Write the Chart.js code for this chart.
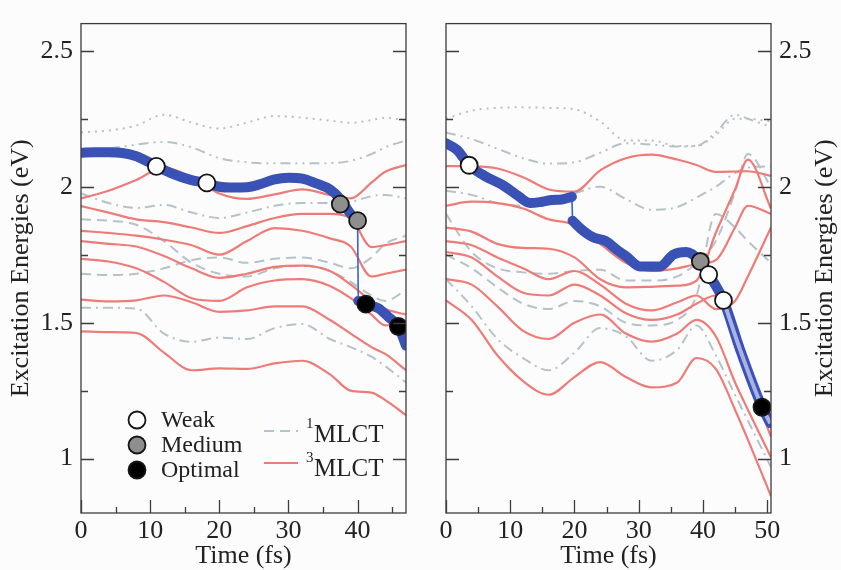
<!DOCTYPE html>
<html>
<head>
<meta charset="utf-8">
<script src="https://cdn.jsdelivr.net/npm/chart.js@4.4.1/dist/chart.umd.min.js"></script>
<style>
  html, body { margin: 0; padding: 0; background: #fcfcfd; }
  #wrap { position: relative; width: 841px; height: 570px; }
  #left { position: absolute; left: 0; top: 0; }
  #right { position: absolute; left: 420px; top: 0; }
</style>
</head>
<body>
<div id="wrap">
  <canvas id="left" width="420" height="570"></canvas>
  <canvas id="right" width="421" height="570"></canvas>
</div>
<script>
// ---- data (time in fs, energy in eV) ----
const timeLeft  = [0, 4, 8, 12, 16, 20, 24, 28, 32, 36, 39, 42, 44, 47];
const timeRight = [0, 4, 8, 12, 16, 20, 24, 28, 32, 36, 39, 42, 45, 47, 50.6];

// 3MLCT (red, solid) - left panel
const redL1 = [1.957, 1.985, 2.025, 2.07, 2.035, 1.975, 1.955, 1.972, 1.99, 1.97, 1.957, 2.015, 2.055, 2.08];
const redL2 = [1.929, 1.905, 1.88, 1.87, 1.85, 1.83, 1.855, 1.885, 1.90, 1.90, 1.885, 1.778, 1.785, 1.80];
const redL3 = [1.838, 1.83, 1.82, 1.805, 1.785, 1.75, 1.80, 1.848, 1.838, 1.81, 1.78, 1.67, 1.68, 1.695];
const redL4 = [1.80, 1.79, 1.78, 1.745, 1.70, 1.665, 1.68, 1.705, 1.71, 1.69, 1.64, 1.58, 1.55, 1.53];
const redL5 = [1.735, 1.725, 1.70, 1.65, 1.59, 1.58, 1.63, 1.655, 1.66, 1.635, 1.59, 1.53, 1.49, 1.50];
const redL6 = [1.585, 1.578, 1.582, 1.60, 1.575, 1.54, 1.545, 1.56, 1.56, 1.51, 1.46, 1.41, 1.385, 1.325];
const redL7 = [1.468, 1.465, 1.462, 1.39, 1.325, 1.332, 1.33, 1.35, 1.36, 1.31, 1.25, 1.243, 1.215, 1.16];

// 1MLCT (grey, broken) - left panel
const grayL1 = [2.20, 2.207, 2.225, 2.265, 2.236, 2.214, 2.236, 2.26, 2.254, 2.243, 2.235, 2.245, 2.254, 2.243];
const grayL2 = [2.13, 2.14, 2.155, 2.165, 2.145, 2.105, 2.09, 2.086, 2.086, 2.087, 2.095, 2.12, 2.145, 2.17];
const grayL3 = [1.975, 1.94, 1.922, 1.933, 1.905, 1.885, 1.905, 1.93, 1.94, 1.94, 1.945, 1.965, 1.97, 1.957];
const grayL4 = [1.88, 1.875, 1.86, 1.80, 1.72, 1.68, 1.67, 1.70, 1.71, 1.69, 1.65, 1.60, 1.58, 1.62];
const grayL5 = [1.68, 1.675, 1.68, 1.70, 1.73, 1.74, 1.72, 1.735, 1.74, 1.72, 1.70, 1.74, 1.79, 1.82];
const grayL6 = [1.555, 1.555, 1.552, 1.46, 1.43, 1.445, 1.44, 1.48, 1.495, 1.44, 1.41, 1.375, 1.34, 1.28];

// 3MLCT - right panel
const redR1 = [2.076, 2.075, 2.067, 2.035, 1.99, 1.982, 2.06, 2.105, 2.118, 2.10, 2.08, 2.055, 2.056, 2.057, 2.04];
const redR2 = [1.93, 1.945, 1.94, 1.92, 1.88, 1.86, 1.79, 1.72, 1.69, 1.70, 1.715, 1.73, 1.85, 1.93, 1.90];
const redR3 = [1.85, 1.835, 1.79, 1.775, 1.772, 1.74, 1.66, 1.63, 1.632, 1.636, 1.655, 1.83, 1.99, 2.10, 1.92];
const redR4 = [1.80, 1.785, 1.74, 1.70, 1.66, 1.69, 1.64, 1.57, 1.545, 1.575, 1.60, 1.55, 1.58, 1.67, 1.85];
const redR5 = [1.76, 1.74, 1.67, 1.61, 1.60, 1.64, 1.60, 1.535, 1.51, 1.53, 1.57, 1.60, 1.42, 1.30, 1.08];
const redR6 = [1.66, 1.64, 1.56, 1.47, 1.44, 1.50, 1.53, 1.46, 1.43, 1.46, 1.51, 1.45, 1.28, 1.18, 1.005];
const redR7 = [1.582, 1.51, 1.38, 1.285, 1.235, 1.30, 1.355, 1.30, 1.262, 1.28, 1.37, 1.33, 1.18, 1.07, 0.862];

// 1MLCT - right panel
const grayR1 = [2.25, 2.28, 2.29, 2.292, 2.29, 2.285, 2.24, 2.17, 2.17, 2.15, 2.15, 2.19, 2.25, 2.25, 2.24];
const grayR2 = [2.20, 2.175, 2.14, 2.105, 2.085, 2.09, 2.125, 2.16, 2.155, 2.148, 2.15, 2.20, 2.265, 2.25, 2.22];
const grayR3 = [1.985, 1.97, 1.94, 1.93, 1.94, 1.975, 2.0, 1.955, 1.915, 1.925, 1.96, 2.0, 2.05, 2.07, 2.075];
const grayR4 = [1.66, 1.56, 1.44, 1.37, 1.325, 1.39, 1.48, 1.45, 1.36, 1.40, 1.49, 1.38, 1.235, 1.14, 0.968];
const grayR5 = [1.90, 1.76, 1.70, 1.685, 1.68, 1.69, 1.695, 1.655, 1.655, 1.67, 1.72, 1.80, 1.98, 2.12, 2.0];
const grayR6 = [1.75, 1.70, 1.63, 1.57, 1.55, 1.58, 1.56, 1.50, 1.49, 1.51, 1.60, 1.90, 1.85, 1.80, 1.72];

// populated state (blue), before and after the hop
const blueLeftA = [[0, 2.125], [2, 2.127], [4, 2.127], [6, 2.124], [8, 2.112], [10, 2.088], [11, 2.075], [13, 2.05],
  [16, 2.024], [18.2, 2.014], [20, 2.0], [22, 1.997], [24, 1.998], [26, 2.01], [28, 2.027], [30, 2.033], [32, 2.03],
  [34, 2.012], [36, 1.99], [37.5, 1.955], [39, 1.9], [40, 1.875]];
const blueLeftB = [[40.1, 1.58], [41.2, 1.568], [43, 1.553], [44.5, 1.52], [45.9, 1.486], [47, 1.415]];
const blueRightA = [[0, 2.16], [1.7, 2.136], [3.6, 2.079], [6, 2.04], [8.9, 2.005], [11, 1.97], [13.1, 1.94],
  [15, 1.945], [16.5, 1.951], [18, 1.953], [19.6, 1.963]];
const blueRightB = [[19.7, 1.875], [21, 1.845], [22.9, 1.814], [24.9, 1.80], [26.5, 1.77], [28.1, 1.743], [30.2, 1.707],
  [33.3, 1.707], [35.4, 1.75], [37.4, 1.76], [39.6, 1.725], [40.9, 1.678], [43.2, 1.582], [45.8, 1.40],
  [49.2, 1.19], [50.5, 1.13]];

// coupling markers: t, E, kind
const markLeftT = [10.9, 18.2, 37.5, 40.0, 41.2, 45.9];
const markLeftE = [2.075, 2.014, 1.936, 1.875, 1.568, 1.486];
const markLeftKind = ['weak', 'weak', 'medium', 'medium', 'optimal', 'optimal'];
const markRightT = [3.6, 39.6, 40.9, 43.2, 49.2];
const markRightE = [2.079, 1.725, 1.677, 1.582, 1.189];
const markRightKind = ['weak', 'medium', 'weak', 'weak', 'optimal'];

const yLabelTicks = [1, 1.5, 2, 2.5];
const yMinorTicks = [1.25, 1.75, 2.25];
const xLabelsLeft = [0, 10, 20, 30, 40];
const xMinorLeft = [5, 15, 25, 35, 45];
const xLabelsRight = [0, 10, 20, 30, 40, 50];
const xMinorRight = [5, 15, 25, 35, 45];

// ---- styling ----
const FONT = '"Liberation Serif", "Times New Roman", serif';
const FS = 26;
const INK = '#222';
const RED = '#ef7b77';
const GRAY = '#b4c2ca';
const BLUE = '#3a51b5';
const FILL = { weak: '#ffffff', medium: '#8e8e8e', optimal: '#000000' };
const DASH = { dotted: [2, 5], dashDotDot: [10, 5, 2, 5, 2, 5], dashDot: [10, 5, 2, 5], dashed: [10, 6] };

const series = (times, values) => times.map((t, i) => ({ x: t, y: values[i] }));
const pairs = list => list.map(p => ({ x: p[0], y: p[1] }));

function redLine(times, values) {
  return { data: series(times, values), borderColor: RED, borderWidth: 2.2, pointRadius: 0,
    cubicInterpolationMode: 'monotone', order: 3 };
}
function grayLine(times, values, dash) {
  return { data: series(times, values), borderColor: GRAY, borderWidth: 2, borderDash: DASH[dash],
    pointRadius: 0, cubicInterpolationMode: 'monotone', order: 4 };
}
function blueSets(partA, partB) {
  const thick = list => ({ data: pairs(list), borderColor: BLUE, borderWidth: 10, borderCapStyle: 'round',
    borderJoinStyle: 'round', pointRadius: 0, cubicInterpolationMode: 'monotone', order: 1 });
  const hop = { data: pairs([partA[partA.length - 1], partB[0]]), borderColor: '#3b63d0', borderWidth: 1.6,
    pointRadius: 0, order: 2 };
  return [thick(partA), hop, thick(partB)];
}
function markers(ts, es, kinds) {
  return { data: series(ts, es), showLine: false, pointRadius: 8.5, pointHoverRadius: 8.5,
    pointBackgroundColor: kinds.map(k => FILL[k]), pointBorderColor: '#151515', pointBorderWidth: 1.8, order: 0 };
}

function yScale(position) {
  return {
    type: 'linear', position, min: 0.8, max: 2.6,
    grid: { display: false, drawTicks: false }, border: { display: false },
    afterBuildTicks: s => { s.ticks = yLabelTicks.map(v => ({ value: v })); },
    ticks: { font: { family: FONT, size: FS }, color: INK, padding: 8, callback: v => String(v) },
    afterFit: s => { s.width = position === 'left' ? 81 : 70; },
    title: position === 'left'
      ? { display: true, text: 'Excitation Energies (eV)', font: { family: FONT, size: FS }, color: INK,
          padding: { top: 6, bottom: 0 } }
      : { display: false }
  };
}
function xScale(max, labels) {
  return {
    type: 'linear', min: 0, max,
    grid: { display: false, drawTicks: false }, border: { display: false },
    afterBuildTicks: s => { s.ticks = labels.map(v => ({ value: v })); },
    ticks: { font: { family: FONT, size: FS }, color: INK, padding: 3, maxRotation: 0, autoSkip: false },
    afterFit: s => { s.height = 57; },
    title: { display: true, text: 'Time (fs)', font: { family: FONT, size: FS }, color: INK,
      padding: { top: 0, bottom: -2 } }
  };
}

// frame + inward ticks on all panel edges
const frame = {
  id: 'frame',
  afterDatasetsDraw(chart, args, opts) {
    const { ctx, chartArea: a, scales: { x, y } } = chart;
    ctx.save();
    ctx.strokeStyle = '#3c3c3c';
    ctx.lineWidth = 1.3;
    ctx.strokeRect(a.left, a.top, a.right - a.left, a.bottom - a.top);
    ctx.beginPath();
    const yTick = (v, len) => {
      const py = Math.round(y.getPixelForValue(v)) + 0.5;
      ctx.moveTo(a.left, py); ctx.lineTo(a.left + len, py);
      ctx.moveTo(a.right, py); ctx.lineTo(a.right - len, py);
    };
    const xTick = (v, len) => {
      const px = Math.round(x.getPixelForValue(v)) + 0.5;
      ctx.moveTo(px, a.bottom); ctx.lineTo(px, a.bottom - len);
    };
    yLabelTicks.forEach(v => yTick(v, 13));
    yMinorTicks.forEach(v => yTick(v, 7));
    opts.major.forEach(v => xTick(v, 13));
    opts.minor.forEach(v => xTick(v, 6));
    ctx.stroke();
    ctx.restore();
  }
};

const legendBox = {
  id: 'legendBox',
  afterDraw(chart) {
    const { ctx } = chart;
    ctx.save();
    const rows = [['weak', 'Weak', 420], ['medium', 'Medium', 445], ['optimal', 'Optimal', 470]];
    ctx.font = '24px ' + FONT;
    ctx.textBaseline = 'middle';
    ctx.fillStyle = INK;
    rows.forEach(([k, label, cy]) => {
      ctx.beginPath();
      ctx.arc(137, cy, 8.5, 0, Math.PI * 2);
      ctx.fillStyle = FILL[k];
      ctx.fill();
      ctx.lineWidth = 1.8;
      ctx.strokeStyle = '#151515';
      ctx.stroke();
      ctx.fillStyle = INK;
      ctx.fillText(label, 161, cy + 1);
    });
    ctx.lineWidth = 2;
    ctx.strokeStyle = GRAY;
    ctx.setLineDash(DASH.dashed);
    ctx.beginPath(); ctx.moveTo(264, 431); ctx.lineTo(298, 431); ctx.stroke();
    ctx.setLineDash([]);
    ctx.strokeStyle = RED;
    ctx.lineWidth = 2.2;
    ctx.beginPath(); ctx.moveTo(264, 463); ctx.lineTo(298, 463); ctx.stroke();
    ctx.fillStyle = INK;
    ctx.font = '15px ' + FONT;
    ctx.fillText('1', 306, 424);
    ctx.fillText('3', 306, 458);
    ctx.font = '25px ' + FONT;
    ctx.fillText('MLCT', 314, 435);
    ctx.fillText('MLCT', 314, 469);
    ctx.restore();
  }
};

const rightTitle = {
  id: 'rightTitle',
  afterDraw(chart) {
    const { ctx, chartArea: a } = chart;
    ctx.save();
    ctx.translate(405, (a.top + a.bottom) / 2);
    ctx.rotate(-Math.PI / 2);
    ctx.font = FS + 'px ' + FONT;
    ctx.fillStyle = INK;
    ctx.textAlign = 'center';
    ctx.textBaseline = 'middle';
    ctx.fillText('Excitation Energies (eV)', 0, 0);
    ctx.restore();
  }
};

function makeChart(id, datasets, scales, padding, frameOpts, extra) {
  return new Chart(document.getElementById(id), {
    type: 'line',
    data: { datasets },
    options: {
      responsive: false, animation: false, events: [],
      layout: { padding },
      plugins: { legend: { display: false }, tooltip: { enabled: false }, frame: frameOpts },
      scales
    },
    plugins: [frame, extra]
  });
}

makeChart('left', [
  markers(markLeftT, markLeftE, markLeftKind),
  ...blueSets(blueLeftA, blueLeftB),
  redLine(timeLeft, redL1), redLine(timeLeft, redL2), redLine(timeLeft, redL3), redLine(timeLeft, redL4),
  redLine(timeLeft, redL5), redLine(timeLeft, redL6), redLine(timeLeft, redL7),
  grayLine(timeLeft, grayL1, 'dotted'), grayLine(timeLeft, grayL2, 'dashDotDot'), grayLine(timeLeft, grayL3, 'dashDot'),
  grayLine(timeLeft, grayL4, 'dashed'), grayLine(timeLeft, grayL5, 'dashed'), grayLine(timeLeft, grayL6, 'dashDot')
], { x: xScale(47, xLabelsLeft), y: yScale('left') },
  { top: 10, right: 14, bottom: 0, left: 0 }, { major: xLabelsLeft, minor: xMinorLeft }, legendBox);

// hollow look of the tail of the right blue trace
const blueTail = { data: pairs(blueRightB.filter(p => p[0] >= 41)), borderColor: '#aab2e4', borderWidth: 4,
  pointRadius: 0, cubicInterpolationMode: 'monotone', order: 0.5 };

makeChart('right', [
  markers(markRightT, markRightE, markRightKind),
  blueTail,
  ...blueSets(blueRightA, blueRightB),
  redLine(timeRight, redR1), redLine(timeRight, redR2), redLine(timeRight, redR3), redLine(timeRight, redR4),
  redLine(timeRight, redR5), redLine(timeRight, redR6), redLine(timeRight, redR7),
  grayLine(timeRight, grayR1, 'dotted'), grayLine(timeRight, grayR2, 'dashDotDot'), grayLine(timeRight, grayR3, 'dashDot'),
  grayLine(timeRight, grayR4, 'dashDot'), grayLine(timeRight, grayR5, 'dashed'), grayLine(timeRight, grayR6, 'dashed')
], { x: xScale(50.6, xLabelsRight), y: yScale('right') },
  { top: 10, right: 0, bottom: 0, left: 26 }, { major: xLabelsRight, minor: xMinorRight }, rightTitle);
</script>
</body>
</html>
